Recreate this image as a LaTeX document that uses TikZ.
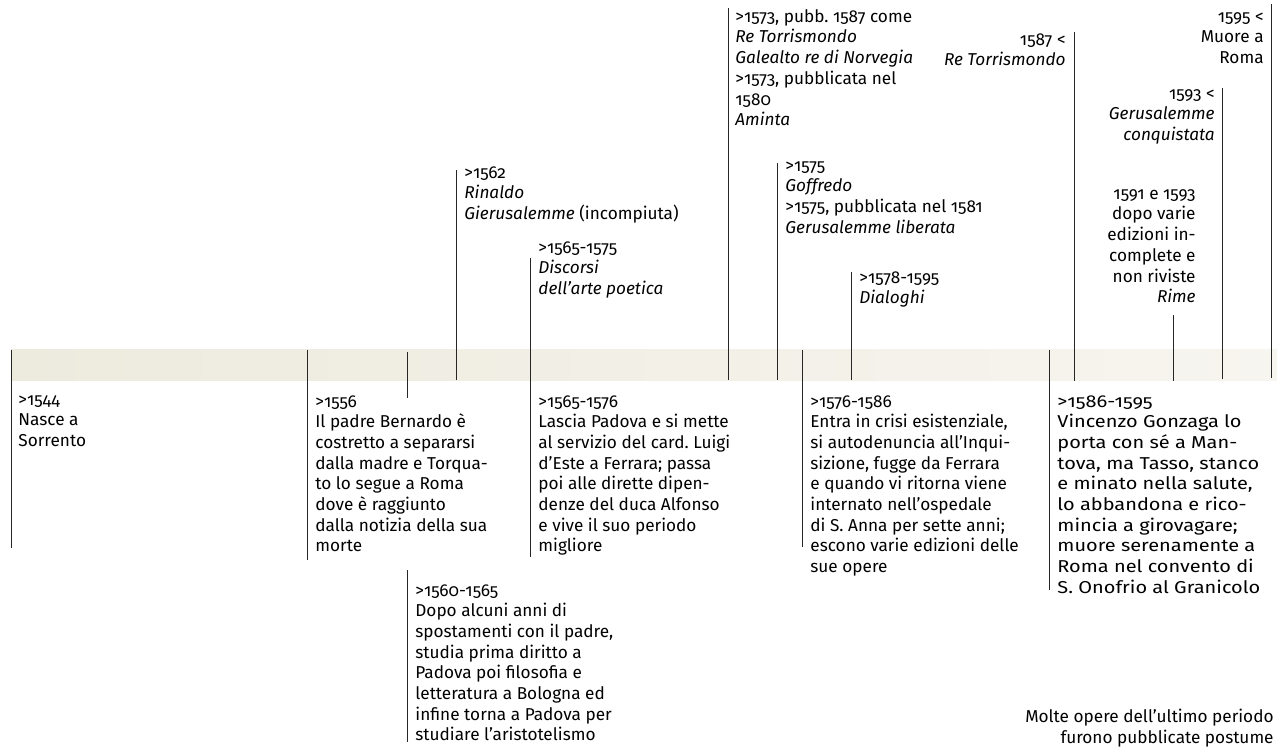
\documentclass[tikz,border=0pt]{standalone}
\usepackage{fontspec}
\setmainfont{Fira Sans}[Numbers=OldStyle]
\newfontfamily\largo{Fira Sans}[Numbers=OldStyle, FakeStretch=1.16]
\usepackage{tikz}
\definecolor{fascia}{RGB}{237,234,222}
\definecolor{fasciachiara}{RGB}{247,245,239}
\frenchspacing

\begin{document}
\begin{tikzpicture}[
	x=0.5pt, y=-0.5pt,
	font=\fontsize{8.6}{10.35}\selectfont,
	testo/.style={anchor=north west, align=left, inner sep=0pt, execute at begin node=\strut},
	testodx/.style={anchor=north east, align=right, inner sep=0pt, execute at begin node=\strut},
	asta/.style={line width=0.5pt, black!85},
]
\useasboundingbox (0,0) rectangle (1277,747);

% fascia del tempo
\shade[left color=fascia, right color=fasciachiara] (11,350) rectangle (1277,381);

% eventi sotto la fascia
\node[testo] (nascita) at (18,395) {>1544\\Nasce a\\Sorrento};
\node[testo] (padre) at (315,395) {>1556\\Il padre Bernardo è\\costretto a separarsi\\dalla madre e Torqua-\\to lo segue a Roma\\dove è raggiunto\\dalla notizia della sua\\morte};
\node[testo] (studi) at (415,584) {>1560-1565\\Dopo alcuni anni di\\spostamenti con il padre,\\studia prima diritto a\\Padova poi filosofia e\\letteratura a Bologna ed\\infine torna a Padova per\\studiare l’aristotelismo};
\node[testo] (ferrara) at (538,395) {>1565-1576\\Lascia Padova e si mette\\al servizio del card. Luigi\\d’Este a Ferrara; passa\\poi alle dirette dipen-\\denze del duca Alfonso\\e vive il suo periodo\\migliore};
\node[testo] (crisi) at (810,395) {>1576-1586\\Entra in crisi esistenziale,\\si autodenuncia all’Inqui-\\sizione, fugge da Ferrara\\e quando vi ritorna viene\\internato nell’ospedale\\di S. Anna per sette anni;\\escono varie edizioni delle\\sue opere};
\node[testo, font=\largo\fontsize{8.6}{10.35}\selectfont] (mantova) at (1057,395) {>1586-1595\\Vincenzo Gonzaga lo\\porta con sé a Man-\\tova, ma Tasso, stanco\\e minato nella salute,\\lo abbandona e rico-\\mincia a girovagare;\\muore serenamente a\\Roma nel convento di\\S. Onofrio al Granicolo};

% opere sopra la fascia
\node[testo] (rinaldo) at (464,166) {>1562\\\textit{Rinaldo}\\\textit{Gierusalemme} (incompiuta)};
\node[testo] (discorsi) at (538,241) {>1565-1575\\\textit{Discorsi}\\\textit{dell’arte poetica}};
\node[testo] (aminta) at (735,9) {>1573, pubb. 1587 come\\\textit{Re Torrismondo}\\\textit{Galealto re di Norvegia}\\>1573, pubblicata nel\\1580\\\textit{Aminta}};
\node[testo] (goffredo) at (785,161) {>1575\\\textit{Goffredo}\\>1575, pubblicata nel 1581\\\textit{Gerusalemme liberata}};
\node[testo] (dialoghi) at (859,271) {>1578-1595\\\textit{Dialoghi}};
\node[testodx] (torrismondo) at (1066,33) {1587 <\\\textit{Re Torrismondo}};
\node[testodx] (rime) at (1196,189) {1591 e 1593\\dopo varie\\edizioni in-\\complete e\\non riviste\\\textit{Rime}};
\node[testodx] (conquistata) at (1215,89) {1593 <\\\textit{Gerusalemme}\\\textit{conquistata}};
\node[testodx] (morte) at (1264,12) {1595 <\\Muore a\\Roma};
\node[testodx] (nota) at (1274,709) {Molte opere dell’ultimo periodo\\furono pubblicate postume};

% aste
\draw[asta] (11,350) -- (11,548);
\draw[asta] (307,350) -- (307,560);
\draw[asta] (407,352) -- (407,398);
\draw[asta] (407,570) -- (407,742);
\draw[asta] (456,170) -- (456,380);
\draw[asta] (530,258) -- (530,557);
\draw[asta] (728,8) -- (728,380);
\draw[asta] (777,163) -- (777,380);
\draw[asta] (802,350) -- (802,547);
\draw[asta] (851,272) -- (851,380);
\draw[asta] (1049,350) -- (1049,590);
\draw[asta] (1074,32) -- (1074,381);
\draw[asta] (1173,315) -- (1173,381);
\draw[asta] (1222,88) -- (1222,379);
\draw[asta] (1271,4) -- (1271,378);
\end{tikzpicture}
\end{document}
